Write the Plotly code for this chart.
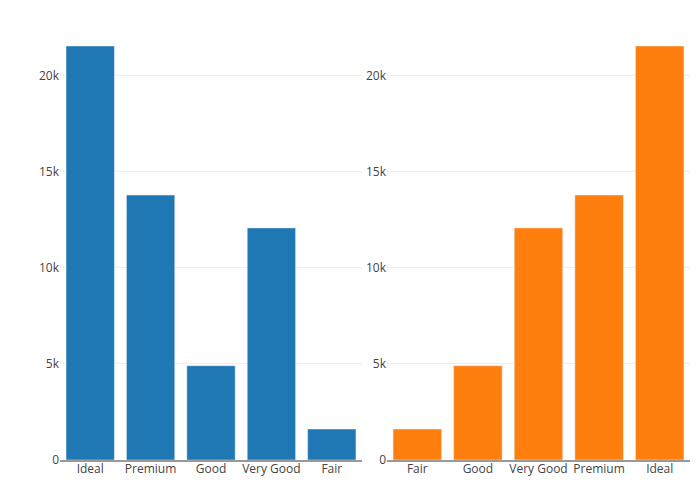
import plotly.graph_objects as go
from plotly.subplots import make_subplots

cuts = ["Ideal", "Premium", "Good", "Very Good", "Fair"]
counts = [21551, 13791, 4906, 12082, 1610]

sorted_cuts = ["Fair", "Good", "Very Good", "Premium", "Ideal"]
sorted_counts = [1610, 4906, 12082, 13791, 21551]

fig = make_subplots(rows=1, cols=2, horizontal_spacing=0.04)
fig.add_trace(go.Bar(x=cuts, y=counts, marker_color="#1f77b4"), row=1, col=1)
fig.add_trace(go.Bar(x=sorted_cuts, y=sorted_counts, marker_color="#ff7f0e"), row=1, col=2)

ymax = max(counts)
fig.update_layout(
    width=700, height=500,
    margin=dict(l=52, r=18, t=38, b=48),
    showlegend=False,
    plot_bgcolor="white", paper_bgcolor="white",
    font=dict(family="Open Sans", size=12, color="#444"),
    bargap=0.2,
)
fig.update_xaxes(showline=True, linecolor="#999", linewidth=1.5, showgrid=False, ticks="",
                 ticklabelstandoff=-3)
fig.update_yaxes(range=[0, ymax], showgrid=True, gridcolor="#eee", zeroline=False,
                 showline=False, dtick=5000, tickformat="~s")
fig.update_xaxes(domain=[0, 302/630], row=1, col=1)
fig.update_xaxes(domain=[327/630, 1], row=1, col=2)
fig.write_html("out.html")
